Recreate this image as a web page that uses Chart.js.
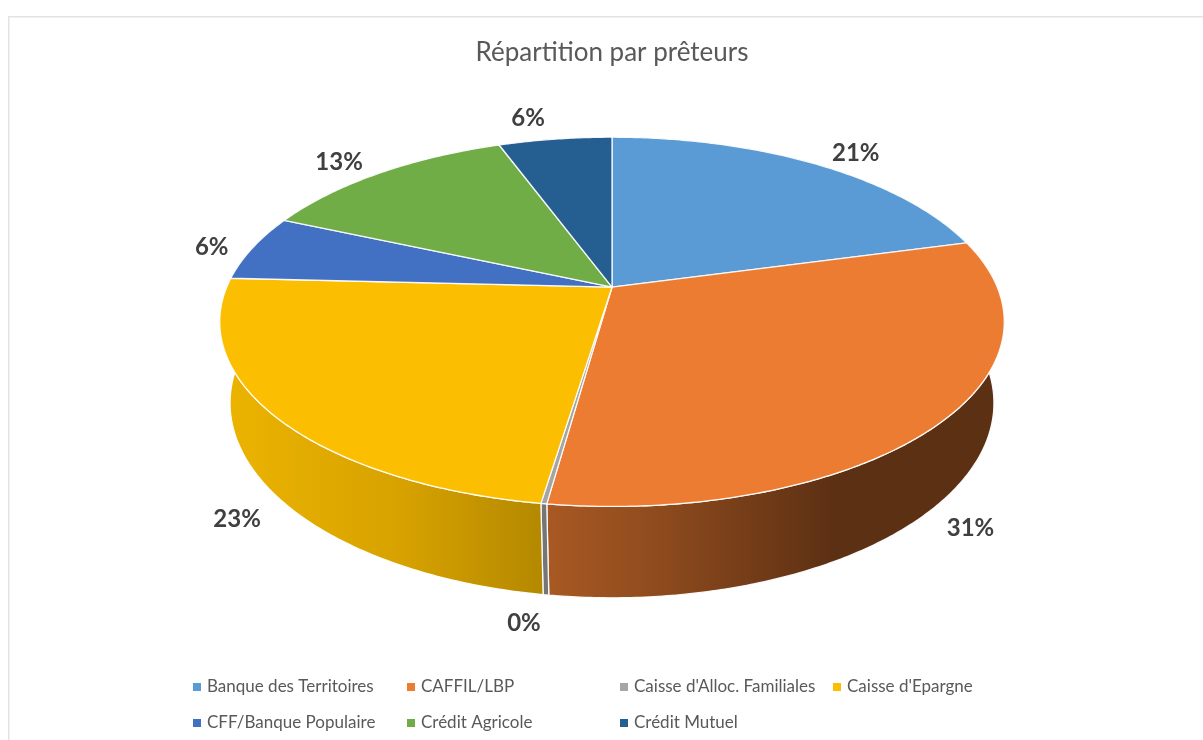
<!DOCTYPE html>
<html lang="fr">
<head>
<meta charset="utf-8">
<title>Répartition par prêteurs</title>
<style>
html,body{margin:0;padding:0;background:#fff;}
canvas{display:block;}
</style>
<script src="https://cdn.jsdelivr.net/npm/chart.js@4"></script>
</head>
<body>
<canvas id="c" width="1203" height="740"></canvas>
<script>
const categories = ["Banque des Territoires","CAFFIL/LBP","Caisse d'Alloc. Familiales","Caisse d'Epargne","CFF/Banque Populaire","Crédit Agricole","Crédit Mutuel"];
const shares = [20.8, 31.4, 0.2, 23.4, 5.8, 12.8, 5.6];
const colors = ["#5B9BD5","#EC7C31","#A5A5A5","#FBBE00","#4270C2","#70AD47","#255E91"];
const labelNudges = [[40,-11],[38,19],[-22,28],[-46,17],[-41,-1],[-41,-11],[-27,-21]];
const labelOnBase = [false,true,true,true,false,false,false];

const TITLE = "Répartition par prêteurs";
const persp = {ax:2.57, by:1.188, cz:0.549, k:0.188, m:0.026};
const shadeStops = [[0,0.95],[0.24,0.855],[0.545,0.615],[0.775,0.39],[1,0.39]];

function project(el, theta, base){
  const r = el.outerRadius, u = Math.sin(theta), v = -Math.cos(theta);
  const w = 1 - persp.k*v + (base ? persp.m : 0);
  return {x: el.x + persp.ax*r*u/w, y: el.y + (persp.by*r*v + (base ? persp.cz*r : 0))/w};
}
function rgb(hex, f){
  const n = parseInt(hex.slice(1),16);
  return `rgb(${Math.round((n>>16&255)*f)},${Math.round((n>>8&255)*f)},${Math.round((n&255)*f)})`;
}
function rim(ctx, el, a, b, base, move){
  const steps = Math.max(2, Math.ceil(Math.abs(b-a)/0.01));
  for(let i=0;i<=steps;i++){
    const p = project(el, a+(b-a)*i/steps, base);
    if(i===0 && move) ctx.moveTo(p.x,p.y); else ctx.lineTo(p.x,p.y);
  }
}
const pie3d = {
  id:'pie3d',
  beforeDraw(chart){
    const ctx = chart.ctx;
    ctx.save();
    ctx.strokeStyle = '#e3e3e3'; ctx.lineWidth = 1.5;
    ctx.beginPath(); ctx.moveTo(8.75,740); ctx.lineTo(8.75,16.75); ctx.lineTo(1203,16.75); ctx.stroke();
    ctx.restore();
  },
  beforeDatasetsDraw(chart){
    const ctx = chart.ctx, arcs = chart.getDatasetMeta(0).data;
    const el0 = arcs[0], span = persp.ax*el0.outerRadius*1.05;
    const ang = el => [el.startAngle+Math.PI/2, el.endAngle+Math.PI/2];
    ctx.save();
    ctx.lineJoin = 'round';
    arcs.forEach((el,i)=>{
      const [a,b] = ang(el);
      const g = ctx.createLinearGradient(el.x-span,0,el.x+span,0);
      shadeStops.forEach(s=>g.addColorStop(s[0],rgb(colors[i],s[1])));
      ctx.beginPath(); rim(ctx,el,a,b,false,true); rim(ctx,el,b,a,true,false); ctx.closePath();
      ctx.fillStyle = g; ctx.fill();
      ctx.strokeStyle = 'rgba(255,255,255,0.95)'; ctx.lineWidth = 1.3; ctx.stroke();
    });
    arcs.forEach((el,i)=>{
      const [a,b] = ang(el);
      ctx.beginPath(); ctx.moveTo(el.x,el.y); rim(ctx,el,a,b,false,false); ctx.closePath();
      ctx.fillStyle = colors[i]; ctx.fill();
      ctx.strokeStyle = 'rgba(255,255,255,0.9)'; ctx.lineWidth = 1.3; ctx.stroke();
    });
    ctx.font = 'bold 24px Lato'; ctx.fillStyle = '#404040';
    ctx.textAlign = 'center'; ctx.textBaseline = 'middle';
    const total = shares.reduce((s,v)=>s+v,0);
    arcs.forEach((el,i)=>{
      const [a,b] = ang(el), p = project(el,(a+b)/2,labelOnBase[i]);
      ctx.fillText(Math.round(shares[i]/total*100)+'%', p.x+labelNudges[i][0], p.y+labelNudges[i][1]);
    });
    const cols = [193,407,620,833], rows = [687,723];
    ctx.font = '17px Lato'; ctx.textAlign = 'left';
    categories.forEach((name,i)=>{
      const c = i<4 ? i : i-4, y = rows[i<4?0:1];
      ctx.fillStyle = colors[i]; ctx.fillRect(cols[c],y-4,8,8);
      ctx.fillStyle = '#595959'; ctx.fillText(name,cols[c]+14,y);
    });
    ctx.restore();
    return false;
  }
};
new Chart(document.getElementById('c'),{
  type:'pie',
  data:{labels:categories,datasets:[{data:shares,backgroundColor:colors}]},
  options:{
    responsive:false, animation:false,
    layout:{padding:{left:217,right:196,top:0,bottom:302}},
    plugins:{
      legend:{display:false}, tooltip:{enabled:false},
      title:{display:true,text:TITLE,color:'#595959',font:{family:'Lato',size:26,weight:'normal'},padding:{top:37,bottom:68}}
    }
  },
  plugins:[pie3d]
});
</script>
</body>
</html>
